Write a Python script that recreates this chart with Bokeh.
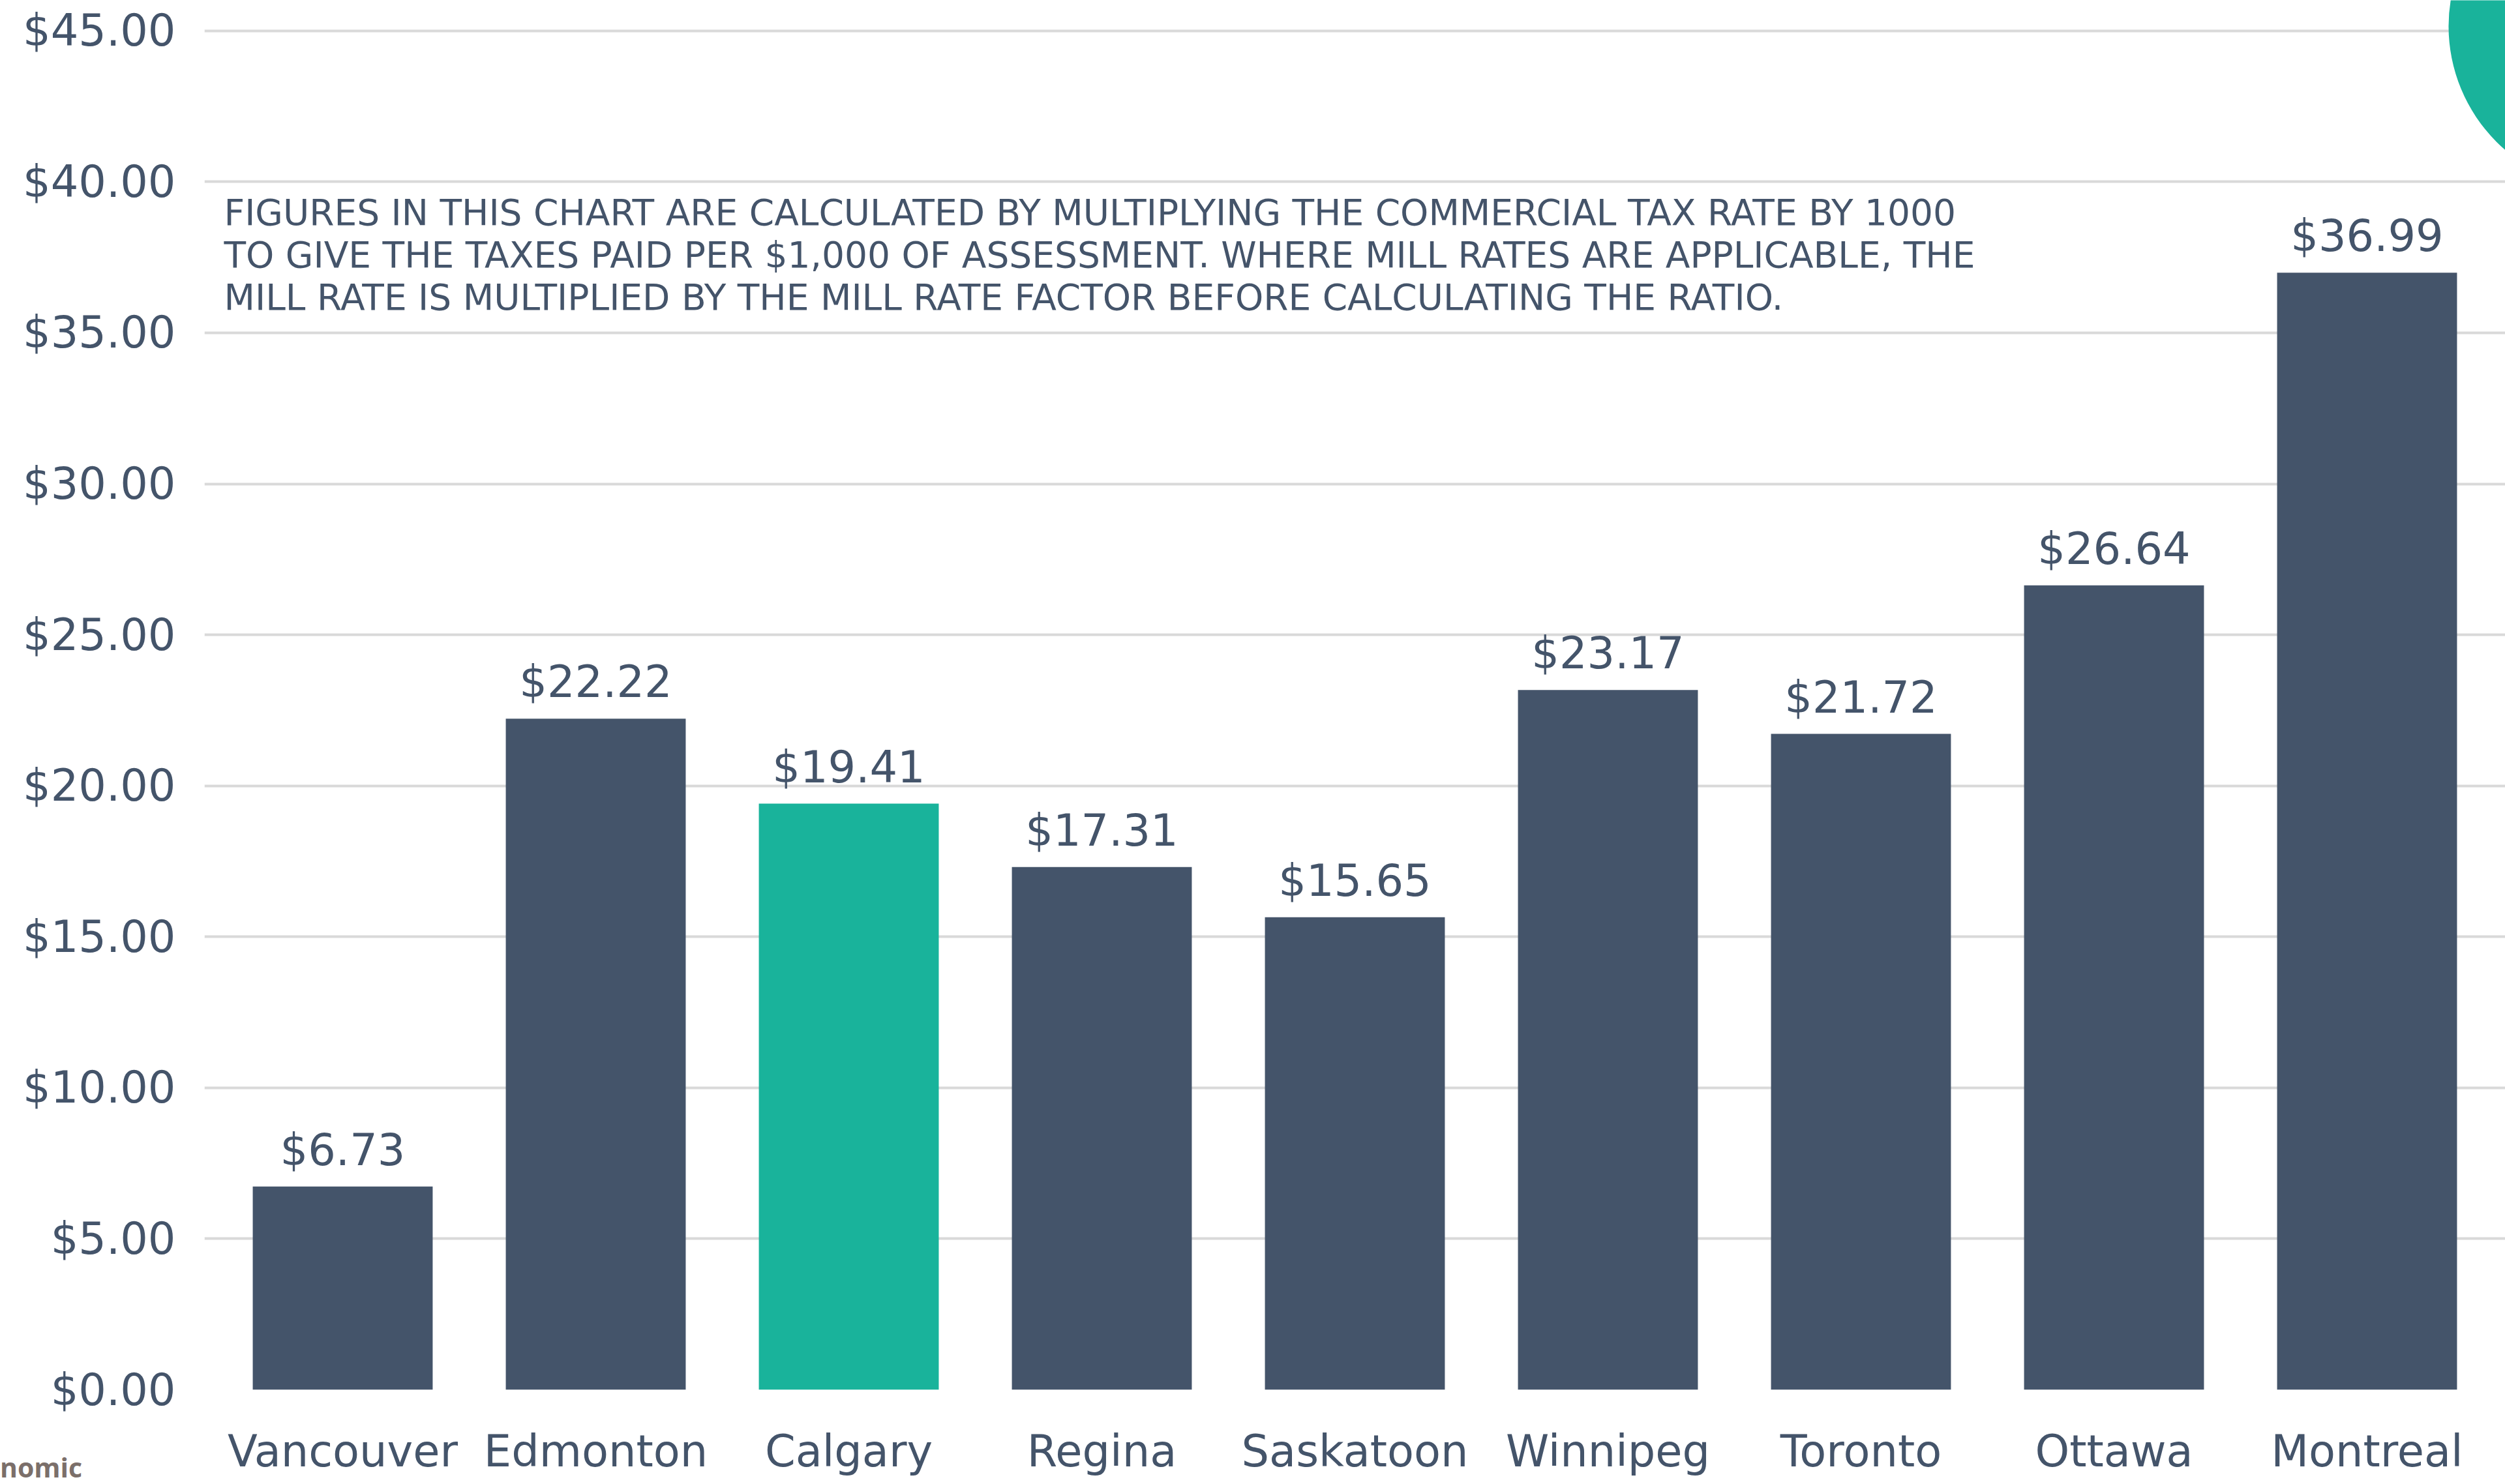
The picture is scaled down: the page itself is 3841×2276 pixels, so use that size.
from bokeh.plotting import figure
from bokeh.layouts import column
from bokeh.models import (ColumnDataSource, FactorRange, Range1d, FixedTicker,
                          NumeralTickFormatter, Label, Div)
from bokeh.embed import file_html
from bokeh.resources import INLINE
from bokeh.core.properties import value

# ---- data ----
cities = ["Vancouver", "Edmonton", "Calgary", "Regina", "Saskatoon",
          "Winnipeg", "Toronto", "Ottawa", "Montreal"]
rates = [6.73, 22.22, 19.41, 17.31, 15.65, 23.17, 21.72, 26.64, 36.99]
highlight = "Calgary"
y_ticks = [0, 5, 10, 15, 20, 25, 30, 35, 40, 45]
note_lines = [
    "FIGURES IN THIS CHART ARE CALCULATED BY MULTIPLYING THE COMMERCIAL TAX RATE BY 1000",
    "TO GIVE THE TAXES PAID PER $1,000 OF ASSESSMENT. WHERE MILL RATES ARE APPLICABLE, THE",
    "MILL RATE IS MULTIPLIED BY THE MILL RATE FACTOR BEFORE CALCULATING THE RATIO.",
]
footer_text = "nomic"

# ---- style ----
DARK = "#44546A"
TEAL = "#19B39B"
GRID = "#D9D9D9"
FONT = "DejaVu Sans"

colors = [TEAL if c == highlight else DARK for c in cities]
labels = ["${:.2f}".format(v) for v in rates]
src = ColumnDataSource(dict(city=cities, rate=rates, color=colors, label=labels))

p = figure(width=3841, height=2276,
           x_range=FactorRange(factors=cities, range_padding=0.0464,
                               range_padding_units="absolute"),
           y_range=Range1d(0, 46.01),
           output_backend="svg", toolbar_location=None,
           min_border_left=313, min_border_right=0,
           min_border_top=0, min_border_bottom=145)
p.outline_line_color = None
p.background_fill_color = "white"
p.border_fill_color = "white"

# decorative circle in the top-right corner
p.circle(x=[9.469], y=[45.15], radius=251, radius_units="screen",
         fill_color=TEAL, line_color=None)

p.vbar(x="city", top="rate", width=0.711, source=src,
       fill_color="color", line_color=None)
p.text(x="city", y="rate", text="label", source=src,
       text_align="center", text_baseline="alphabetic", y_offset=-56,
       text_font=value(FONT), text_font_size="67px", text_color=DARK)

# axes
p.yaxis.ticker = FixedTicker(ticks=y_ticks)
p.yaxis.formatter = NumeralTickFormatter(format="$0.00")
for ax in (p.xaxis[0], p.yaxis[0]):
    ax.axis_line_color = None
    ax.major_tick_line_color = None
    ax.minor_tick_line_color = None
    ax.major_tick_out = 0
    ax.major_tick_in = 0
    ax.major_label_text_font = FONT
    ax.major_label_text_font_size = "67px"
    ax.major_label_text_color = DARK
p.yaxis.major_label_standoff = 44
p.xaxis.major_label_standoff = 55

p.xgrid.grid_line_color = None
p.ygrid.ticker = FixedTicker(ticks=y_ticks)
p.ygrid.grid_line_color = GRID
p.ygrid.grid_line_width = 4

# note text
note_y = [38.98, 37.58, 36.17]
for t, yy in zip(note_lines, note_y):
    p.add_layout(Label(x=30, x_units="screen", y=yy, y_units="data", text=t,
                       text_font=FONT, text_font_size="55px",
                       text_color=DARK, text_baseline="middle"))

footer = Div(text=footer_text, width=300, height=46, margin=(-46, 0, 0, 0),
             styles={"font-family": "Open Sans", "font-weight": "bold",
                     "font-size": "41px", "line-height": "41px",
                     "color": "#7B6F6A"})

layout = column(p, footer, spacing=0)
open("out.html", "w").write(file_html(layout, INLINE))
